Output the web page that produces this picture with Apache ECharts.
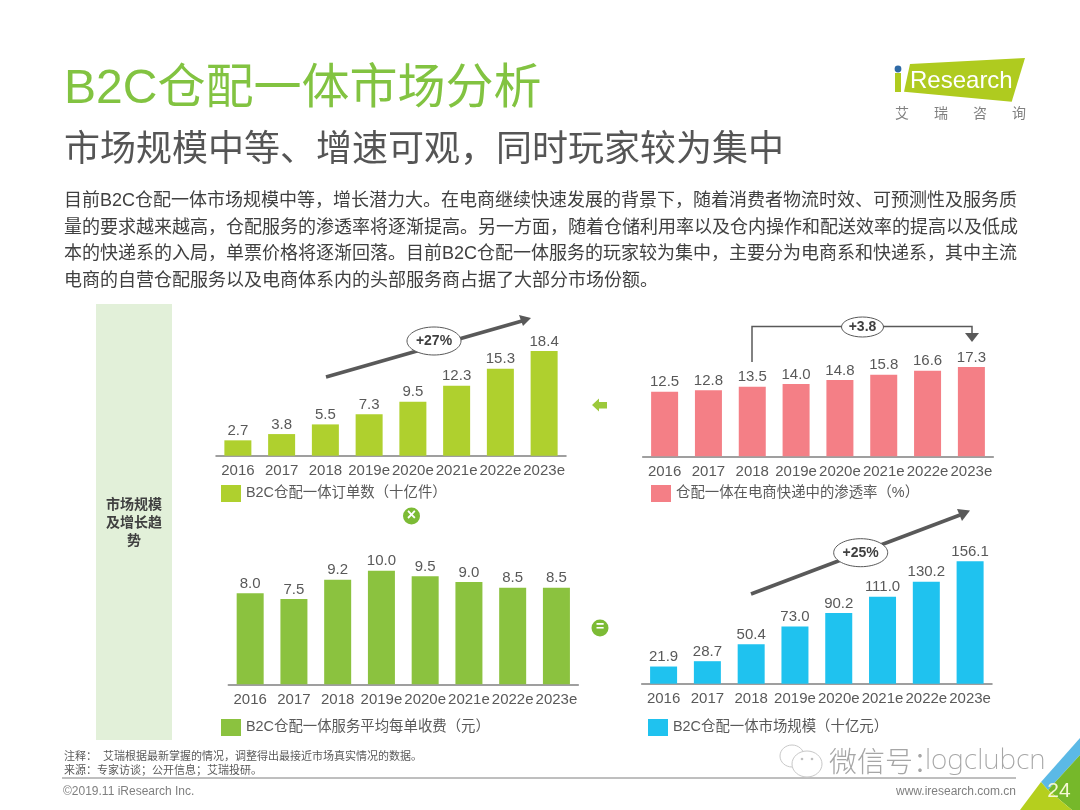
<!DOCTYPE html>
<html><head><meta charset="utf-8">
<style>html,body{margin:0;padding:0;background:#fff}#c{width:1080px;height:810px}</style>
<script src="https://cdn.jsdelivr.net/npm/echarts@6/dist/echarts.min.js"></script>
</head><body><div id="c"></div>
<script>
const years = ['2016','2017','2018','2019e','2020e','2021e','2022e','2023e'];
const orders = [2.7,3.8,5.5,7.3,9.5,12.3,15.3,18.4];
const penetration = [12.5,12.8,13.5,14.0,14.8,15.8,16.6,17.3];
const fee = [8.0,7.5,9.2,10.0,9.5,9.0,8.5,8.5];
const market = [21.9,28.7,50.4,73.0,90.2,111.0,130.2,156.1];
const nameOrders = 'B2C仓配一体订单数\uFF08十亿件\uFF09';
const namePenetration = '仓配一体在电商快递中的渗透率\uFF08%\uFF09';
const nameFee = 'B2C仓配一体服务平均每单收费\uFF08元\uFF09';
const nameMarket = 'B2C仓配一体市场规模\uFF08十亿元\uFF09';
const title = 'B2C仓配一体市场分析';
const subtitle = '市场规模中等、增速可观\uFF0C同时玩家较为集中';
const bodyLines = [
 '目前B2C仓配一体市场规模中等\uFF0C增长潜力大。在电商继续快速发展的背景下\uFF0C随着消费者物流时效、可预测性及服务质',
 '量的要求越来越高\uFF0C仓配服务的渗透率将逐渐提高。另一方面\uFF0C随着仓储利用率以及仓内操作和配送效率的提高以及低成',
 '本的快递系的入局\uFF0C单票价格将逐渐回落。目前B2C仓配一体服务的玩家较为集中\uFF0C主要分为电商系和快递系\uFF0C其中主流',
 '电商的自营仓配服务以及电商体系内的头部服务商占据了大部分市场份额。'];
const FONT = '"Liberation Sans","Noto Sans CJK SC",sans-serif';
const GRAY = '#595959';
const panels = [
 {name:nameOrders, data:orders, color:'#AFD02E', left:216, width:350, top:330.5, height:125.2, max:22, lx:221, ly:485},
 {name:namePenetration, data:penetration, color:'#F47F86', left:642.7, width:350.6, top:342.8, height:113.5, max:22, lx:651, ly:485},
 {name:nameFee, data:fee, color:'#8BC23F', left:228.3, width:350, top:547.9, height:136.4, max:12, lx:221, ly:719},
 {name:nameMarket, data:market, color:'#1FC2EF', left:641.7, width:350.3, top:542.6, height:141.1, max:180, lx:648, ly:719}
];
function txt(x,y,text,size,fill,extra){
  return {type:'text',silent:true,x:x,y:y,style:Object.assign({text:text,fontFamily:FONT,fontSize:size,fill:fill,textVerticalAlign:'middle'},extra||{})};
}
function line(x1,y1,x2,y2,stroke,w){return {type:'line',silent:true,shape:{x1,y1,x2,y2},style:{stroke,lineWidth:w}};}
function poly(points,fill){return {type:'polygon',silent:true,shape:{points},style:{fill}};}
function ell(cx,cy,rx,ry,label){
  return [{type:'ellipse',silent:true,shape:{cx,cy,rx,ry},style:{fill:'#fff',stroke:'#595959',lineWidth:1}},
          txt(cx,cy,label,14,'#404040',{textAlign:'center',fontWeight:'bold'})];
}
const g = [];
// header
g.push(txt(64,90,title,48,'#82C341'));
g.push(txt(64,151,subtitle,36,'#555555'));
bodyLines.forEach((t,i)=>g.push(txt(64,201+i*26.6,t,18,'#404040')));
// left panel
g.push({type:'rect',silent:true,shape:{x:96,y:304,width:76,height:436},style:{fill:'#E2F0D9'}});
['市场规模','及增长趋','势'].forEach((t,i)=>g.push(txt(134,505+i*18,t,14,'#404040',{textAlign:'center',fontWeight:'bold'})));
// growth arrows
const AR='#595959';
g.push(line(326,377,522,321,AR,3.5));
g.push(poly([[531,318],[519,315],[523,326]],AR));
g.push(...ell(434,341,27,14,'+27%'));
g.push({type:'polyline',silent:true,shape:{points:[[752,362],[752,326.5],[972,326.5],[972,335]]},style:{stroke:AR,lineWidth:1.5,fill:null}});
g.push(poly([[972,342],[965,333],[979,333]],AR));
g.push(...ell(862.5,327,21,10,'+3.8'));
g.push(line(751,594,960,515,AR,3.5));
g.push(poly([[970,510.5],[957,509],[962,521]],AR));
g.push(...ell(860.7,552.7,27,14,'+25%'));
// connectors
g.push(poly([[592,405],[599,398.5],[599,402],[607,402],[607,408.5],[599,408.5],[599,411.5]],'#9CC93B'));
g.push({type:'circle',silent:true,shape:{cx:411.5,cy:516,r:8.5},style:{fill:'#7CBB35'}});
g.push(txt(411.5,515.5,'×',16,'#fff',{textAlign:'center',fontWeight:'bold'}));
g.push({type:'circle',silent:true,shape:{cx:600,cy:628,r:8.5},style:{fill:'#7CBB35'}});
g.push(txt(600,627.5,'=',14,'#fff',{textAlign:'center',fontWeight:'bold'}));
// logo
g.push(poly([[910,64],[1025,58],[1011.7,101.7],[904,91.7]],'#AFCB1F'));
g.push({type:'rect',silent:true,shape:{x:895,y:73,width:6,height:19},style:{fill:'#AFCB1F'}});
g.push({type:'circle',silent:true,shape:{cx:898,cy:69,r:3.4},style:{fill:'#2F6AA6'}});
g.push(txt(910,81,'Research',24,'#fff'));
['艾','瑞','咨','询'].forEach((t,i)=>g.push(txt(895+i*39,114,t,14,'#808080')));
// footer
g.push(txt(64,757,'注释\uFF1A  艾瑞根据最新掌握的情况\uFF0C调整得出最接近市场真实情况的数据。',11,'#595959'));
g.push(txt(64,771,'来源\uFF1A专家访谈\uFF1B公开信息\uFF1B艾瑞投研。',11,'#595959'));
g.push(line(62,778,1016,778,'#7F7F7F',1));
g.push(txt(63,792,'©2019.11 iResearch Inc.',12,'#7F7F7F'));
g.push(txt(1016,792,'www.iresearch.com.cn',12,'#7F7F7F',{textAlign:'right'}));
// corner
g.push(poly([[1041,782],[1080,738],[1080,755],[1048,790]],'#5BB9E6'));
g.push(poly([[1048,790],[1080,755],[1080,810],[1072,810]],'#76B82A'));
g.push(poly([[1020,810],[1041,782],[1048,790],[1072,810]],'#B5CF1E'));
g.push(txt(1059,791,'24',21,'#F5F7D5',{textAlign:'center'}));
// watermark
g.push({type:'ellipse',silent:true,shape:{cx:792,cy:756,rx:12,ry:11},style:{fill:'#fff',stroke:'#C8C8C8',lineWidth:1}});
g.push({type:'ellipse',silent:true,shape:{cx:807,cy:764,rx:15,ry:13},style:{fill:'#fff',stroke:'#C8C8C8',lineWidth:1}});
g.push({type:'circle',silent:true,shape:{cx:802,cy:759,r:1.3},style:{fill:'#C0C0C0'}});
g.push({type:'circle',silent:true,shape:{cx:812,cy:759,r:1.3},style:{fill:'#C0C0C0'}});
g.push(txt(829,761,'微信号\uFF1A',28,'#A6A6A6',{fontFamily:'"Noto Sans CJK SC",sans-serif',fontWeight:200}));
g.push(txt(925,761,'logclubcn',28,'#A6A6A6',{fontFamily:'"Noto Sans",sans-serif',fontWeight:200}));

const option = {
 animation:false, backgroundColor:'#fff', textStyle:{fontFamily:FONT},
 grid: panels.map(p=>({left:p.left,top:p.top,width:p.width,height:p.height,containLabel:false})),
 xAxis: panels.map((p,i)=>({type:'category',gridIndex:i,data:years,
   axisTick:{show:false},axisLine:{lineStyle:{color:'#808080',width:1.5}},
   axisLabel:{interval:0,color:GRAY,fontSize:15,fontFamily:FONT,margin:8}})),
 yAxis: panels.map((p,i)=>({type:'value',gridIndex:i,min:0,max:p.max,show:false,splitLine:{show:false}})),
 legend: panels.map(p=>({show:true,left:p.lx,top:p.ly,orient:'horizontal',data:[p.name],itemWidth:20,itemHeight:17,itemGap:0,icon:'rect',selectedMode:false,
   textStyle:{color:GRAY,fontSize:14.4,fontFamily:FONT,padding:[0,0,0,0]},padding:0})),
 series: panels.map((p,i)=>({type:'bar',name:p.name,xAxisIndex:i,yAxisIndex:i,data:p.data,barWidth:27,
   itemStyle:{color:p.color},
   label:{show:true,position:'top',distance:2,color:GRAY,fontSize:15,fontFamily:FONT,
     formatter:(d)=> d.value.toFixed(1)}})),
 graphic:{elements:g}
};
const chart = echarts.init(document.getElementById('c'),null,{renderer:'canvas'});
chart.setOption(option);
</script></body></html>
